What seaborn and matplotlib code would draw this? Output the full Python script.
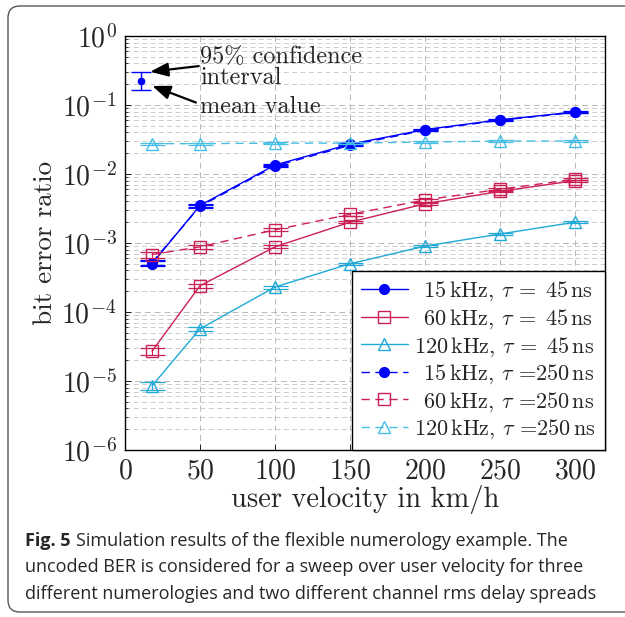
import numpy as np
import pandas as pd
import matplotlib
matplotlib.use("Agg")
import matplotlib.pyplot as plt
import seaborn as sns
from matplotlib.path import Path
from matplotlib.patches import PathPatch

# user velocity (km/h)
velocity = [18, 50, 100, 150, 200, 250, 300]

# bit error ratio, tau = 45 ns
ber_15_45 = [5.0e-4, 3.5e-3, 1.35e-2, 2.7e-2, 4.4e-2, 6.1e-2, 7.9e-2]
ber_60_45 = [2.7e-5, 2.4e-4, 8.8e-4, 2.0e-3, 3.7e-3, 5.6e-3, 8.0e-3]
ber_120_45 = [8.5e-6, 5.7e-5, 2.3e-4, 5.0e-4, 9.0e-4, 1.35e-3, 2.0e-3]
# bit error ratio, tau = 250 ns
ber_15_250 = [5.2e-4, 3.4e-3, 1.3e-2, 2.6e-2, 4.3e-2, 6.0e-2, 7.8e-2]
ber_60_250 = [6.8e-4, 8.8e-4, 1.55e-3, 2.6e-3, 4.2e-3, 6.0e-3, 8.4e-3]
ber_120_250 = [2.75e-2, 2.75e-2, 2.8e-2, 2.8e-2, 2.9e-2, 3.0e-2, 3.0e-2]

# relative half width of the 95% confidence interval
ci_15_45 = [0.08, 0.06, 0.04, 0.03, 0.02, 0.02, 0.02]
ci_60_45 = [0.12, 0.07, 0.05, 0.04, 0.04, 0.03, 0.03]
ci_120_45 = [0.14, 0.08, 0.05, 0.04, 0.03, 0.03, 0.03]
ci_15_250 = [0.08, 0.06, 0.04, 0.03, 0.02, 0.02, 0.02]
ci_60_250 = [0.10, 0.07, 0.05, 0.06, 0.05, 0.05, 0.04]
ci_120_250 = [0.03, 0.03, 0.03, 0.03, 0.02, 0.02, 0.02]

# example point for the annotation
demo_v, demo_ber, demo_lo, demo_hi = 10.7, 0.22, 0.165, 0.30

blue = "#0000ff"
red = "#cc1f55"
cyan = "#1fa9d6"
cyan_d = "#45bfe6"

pad = r"$\hspace{0.5}$"
th = r"$\,$"
labels = [
    pad + "15" + th + r"kHz, $\tau$ =" + pad + "45" + th + "ns",
    pad + "60" + th + r"kHz, $\tau$ =" + pad + "45" + th + "ns",
    "120" + th + r"kHz, $\tau$ =" + pad + "45" + th + "ns",
    pad + "15" + th + r"kHz, $\tau$ =250" + th + "ns",
    pad + "60" + th + r"kHz, $\tau$ =250" + th + "ns",
    "120" + th + r"kHz, $\tau$ =250" + th + "ns",
]
series = [
    (labels[0], ber_15_45, ci_15_45, blue, "-", "o", True),
    (labels[1], ber_60_45, ci_60_45, red, "-", "s", False),
    (labels[2], ber_120_45, ci_120_45, cyan, "-", "^", False),
    (labels[3], ber_15_250, ci_15_250, blue, "--", "o", True),
    (labels[4], ber_60_250, ci_60_250, red, "--", "s", False),
    (labels[5], ber_120_250, ci_120_250, cyan_d, "--", "^", False),
]

sns.set_theme(style="white")
plt.rcParams["font.family"] = ["cmr10", "DejaVu Serif"]
plt.rcParams["mathtext.fontset"] = "cm"
plt.rcParams["axes.formatter.use_mathtext"] = True

fig = plt.figure(figsize=(6.25, 6.17), dpi=100)
ax = fig.add_axes([0.2, 0.2707, 0.768, 0.671])

for label, ber, ci, col, ls, mk, filled in series:
    df = pd.DataFrame({"v": velocity, "ber": ber})
    sns.lineplot(data=df, x="v", y="ber", ax=ax, color=col, linestyle=ls,
                 linewidth=1.0, marker=mk, markersize=8 if mk != "o" else 7,
                 markerfacecolor=col if filled else "none",
                 markeredgecolor=col, markeredgewidth=1.0, label=label)
    if ls == "--":
        ax.lines[-1].set_dashes((6, 4))
    err = np.array(ber) * np.array(ci)
    ax.errorbar(velocity, ber, yerr=err, fmt="none", ecolor=col,
                elinewidth=0.8, capsize=9, capthick=0.9)

# annotation example
ax.errorbar([demo_v], [demo_ber], yerr=[[demo_ber - demo_lo], [demo_hi - demo_ber]],
            fmt="o", color=blue, markersize=4.5, elinewidth=1.0, capsize=7, capthick=1.0)
ax.annotate("", xy=(15.0, 0.30), xytext=(51, 0.37),
            arrowprops=dict(arrowstyle="-|>,head_length=0.9,head_width=0.35",
                            color="black", lw=1.6))
ax.annotate("", xy=(16.5, 0.195), xytext=(49, 0.105),
            arrowprops=dict(arrowstyle="-|>,head_length=0.9,head_width=0.35",
                            color="black", lw=1.6))
ann_fs = 17.5
ax.text(50, 0.49, "95% confidence", fontsize=ann_fs, va="center", ha="left")
ax.text(50, 0.245, "interval", fontsize=ann_fs, va="center", ha="left")
ax.text(50, 0.093, "mean value", fontsize=ann_fs, va="center", ha="left")

ax.set_yscale("log")
ax.set_xlim(0, 320)
ax.set_ylim(1e-6, 1)
ax.set_xticks([0, 50, 100, 150, 200, 250, 300])
ax.set_xlabel("user velocity in km/h", fontsize=20.5, labelpad=0)
ax.set_ylabel("bit error ratio", fontsize=19.5, labelpad=3)
ax.tick_params(axis="both", which="major", labelsize=20, direction="in",
               length=4, width=0.6, color="black", left=True, bottom=True, pad=6)
ax.tick_params(axis="y", which="minor", direction="in", length=2.5,
               width=0.5, color="black", left=True)
ax.yaxis.set_minor_locator(matplotlib.ticker.LogLocator(base=10, subs=np.arange(2, 10)))
ax.yaxis.set_minor_formatter(matplotlib.ticker.NullFormatter())
ax.grid(True, which="major", color="#b8b8b8", linestyle=(0, (6, 4)), linewidth=0.7)
ax.grid(True, which="minor", axis="y", color="#c4c4c4", linestyle=(0, (6, 4)), linewidth=0.6)
for s in ax.spines.values():
    s.set_color("black")
    s.set_linewidth(1.0)

leg = ax.legend(loc="lower right", fontsize=16, frameon=True, fancybox=False,
                borderaxespad=0, handlelength=2.1, labelspacing=0.17,
                handletextpad=0.3, borderpad=0.4)
leg.get_frame().set_edgecolor("black")
leg.get_frame().set_linewidth(1.0)
leg.get_frame().set_alpha(1)

# page frame (open to the right) and caption
W, H = 625.0, 617.0
x0, y_top, y_bot, r = 8, 6, 612, 12
verts = [(640, y_top), (x0 + r, y_top), (x0, y_top), (x0, y_top + r),
         (x0, y_bot - r), (x0, y_bot), (x0 + r, y_bot), (640, y_bot)]
codes = [Path.MOVETO, Path.LINETO, Path.CURVE3, Path.CURVE3,
         Path.LINETO, Path.CURVE3, Path.CURVE3, Path.LINETO]
verts = [(vx / W, 1 - vy / H) for vx, vy in verts]
fig.patches.append(PathPatch(Path(verts, codes), transform=fig.transFigure,
                             fill=False, edgecolor="#555555", linewidth=1.0))

cap_font = "Open Sans"
cap_fs = 13.0
fig.canvas.draw()
bold = fig.text(25 / W, 1 - 541 / H, "Fig. 5", fontsize=cap_fs, fontweight="bold",
                family=cap_font, va="center", ha="left")
bb = bold.get_window_extent(renderer=fig.canvas.get_renderer())
fig.text((bb.x1 + 6) / W, 1 - 541 / H,
         "Simulation results of the flexible numerology example. The",
         fontsize=cap_fs, family=cap_font, va="center", ha="left")
fig.text(25 / W, 1 - 567 / H,
         "uncoded BER is considered for a sweep over user velocity for three",
         fontsize=cap_fs, family=cap_font, va="center", ha="left")
fig.text(25 / W, 1 - 594 / H,
         "different numerologies and two different channel rms delay spreads",
         fontsize=cap_fs, family=cap_font, va="center", ha="left")

fig.savefig("out.png", dpi=100)
